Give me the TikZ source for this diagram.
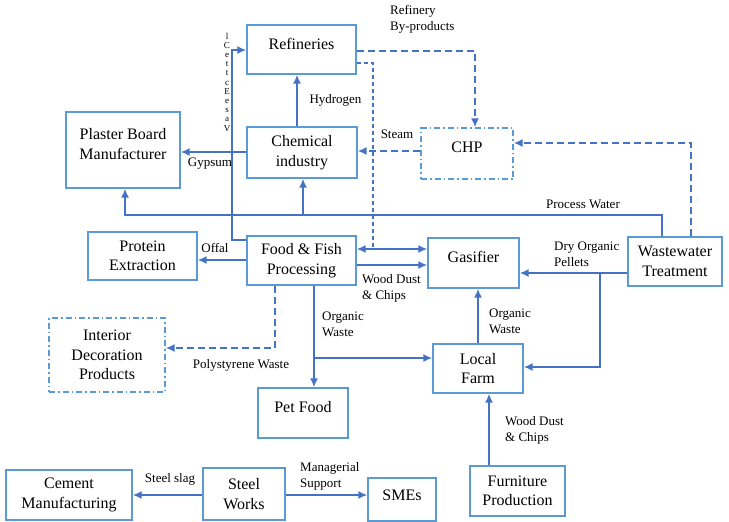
\documentclass[tikz,border=0pt]{standalone}
\usepackage{fontspec}
\setmainfont{Liberation Serif}
\newfontfamily\boxserif{Liberation Serif}
\usetikzlibrary{arrows.meta}
\definecolor{boxblue}{HTML}{5B9BD5}
\definecolor{linkblue}{HTML}{4472C4}
\begin{document}
\begin{tikzpicture}[x=1pt,y=-1pt,
  box/.style={draw=boxblue, line width=1.3pt, rectangle, inner sep=0pt, align=center,
    font=\boxserif\fontsize{16}{19.5}\selectfont},
  sz/.style 2 args={minimum width=#1pt, minimum height=#2pt},
  dbox/.style={box, dash pattern=on 6pt off 3pt on 1.5pt off 3pt},
  raised/.style={text depth=12pt},
  lab/.style={font=\boxserif\fontsize{13}{16}\selectfont, align=left, inner sep=0pt},
  link/.style={draw=linkblue, line width=2pt},
  arr/.style={link, -{Latex[length=9pt,width=8pt]}},
  arrtwo/.style={link, {Latex[length=9pt,width=8pt]}-{Latex[length=9pt,width=8pt]}},
  dsh/.style={dash pattern=on 7pt off 4pt},
  fine/.style={draw=linkblue, line width=1.3pt, dash pattern=on 4.5pt off 2.5pt},
]
\useasboundingbox (0,0) rectangle (729,522);

% boxes
\node[box, sz={109}{49}, raised] (ref) at (301.5,49.5) {Refineries};
\node[box, sz={110}{51}] (chem) at (302,152.5) {Chemical\\industry};
\node[box, sz={114}{76}, raised] (plaster) at (123,150) {Plaster Board\\Manufacturer};
\node[box, sz={109}{48}] (protein) at (142.5,256) {Protein\\Extraction};
\node[box, sz={109}{49}] (food) at (301.5,260.5) {Food \& Fish\\Processing};
\node[box, sz={91}{50}, raised] (gas) at (473.5,263) {Gasifier};
\node[dbox, sz={92}{51}, raised] (chp) at (467,153.5) {CHP};
\node[box, sz={94}{49}] (ww) at (675,261.5) {Wastewater\\Treatment};
\node[dbox, sz={116}{74}] (interior) at (107,355) {Interior\\Decoration\\Products};
\node[box, sz={90}{50}, raised] (pet) at (303,413) {Pet Food};
\node[box, sz={90}{49}] (farm) at (478,368.5) {Local\\Farm};
\node[box, sz={95}{50}] (furn) at (517.5,491) {Furniture\\Production};
\node[box, sz={126}{50}] (cement) at (69,495) {Cement\\Manufacturing};
\node[box, sz={82}{52}] (steel) at (244,494) {Steel\\Works};
\node[box, sz={68}{43}, text depth=8pt] (smes) at (402,499.5) {SMEs};

% garbled vertical label
\node[font=\boxserif\fontsize{9}{9.2}\selectfont, inner sep=0pt, align=center] (garble) at (227,82)
  {l\\C\\e\\t\\t\\c\\E\\e\\s\\a\\V};

% Hydrogen
\draw[arr] (chem.north -| 297,0) -- (ref.south -| 297,0);
\node[lab] (lhyd) at (335.5,100) {Hydrogen};

% Refinery by-products
\draw[arr, dsh] (ref.east |- 0,51) -- (475,51) -- (chp.north -| 475,0);
\node[lab, anchor=west] (lrbp) at (390,19) {Refinery\\By-products};

% fine dashed Refineries -> food/gasifier link
\draw[fine] (ref.east |- 0,63) -- (373,63) -- (373,249);
\draw[arrtwo] (food.east |- 0,249) -- (gas.west |- 0,249);

% Wood dust food -> gasifier
\draw[arr] (food.east |- 0,265) -- (gas.west |- 0,265);
\node[lab, anchor=west] (lwd1) at (362,288) {Wood Dust\\\& Chips};

% Offal
\draw[arr] (food.west |- 0,260) -- (protein.east |- 0,260);
\node[lab] (loffal) at (215,248) {Offal};

% Food -> Refineries
\draw[arr] (food.west |- 0,240) -- (232,240) -- (232,50) -- (ref.west |- 0,50);

% Gypsum
\draw[arr] (chem.west |- 0,152) -- (plaster.east |- 0,152);
\node[lab] (lgyp) at (210,164) {Gypsum};

% Steam
\draw[arr, dsh] (chp.west |- 0,151) -- (chem.east |- 0,151);
\node[lab] (lsteam) at (397,134) {Steam};

% Wastewater -> CHP
\draw[arr, dsh] (ww.north -| 691,0) -- (691,143) -- (chp.east |- 0,143);

% Process water
\draw[arr] (ww.north -| 662,0) -- (662,215) -- (125,215) -- (plaster.south -| 125,0);
\coordinate (pwb) at (303,215);
\draw[arr] (pwb) -- (chem.south -| pwb);
\node[lab] (lpw) at (583,204) {Process Water};

% Dry organic pellets
\draw[arr] (ww.west |- 0,273) -- (gas.east |- 0,273);
\coordinate (dop) at (600,273);
\draw[arr] (dop) -- (600,367) -- (farm.east |- 0,367);
\node[lab, anchor=west] (ldop) at (554,254) {Dry Organic\\Pellets};

% Farm -> Gasifier
\draw[arr] (farm.north -| 478,0) -- (gas.south -| 478,0);
\node[lab, anchor=west] (low2) at (489,321) {Organic\\Waste};

% Food -> Pet food, -> farm
\draw[arr] (food.south -| 314,0) -- (pet.north -| 314,0);
\coordinate (owb) at (314,358);
\draw[arr] (owb) -- (farm.west |- owb);
\node[lab, anchor=west] (low1) at (322,324) {Organic\\Waste};

% Polystyrene
\draw[arr, dsh] (food.south -| 275,0) -- (275,348) -- (interior.east |- 0,348);
\node[lab] (lpoly) at (241,365) {Polystyrene Waste};

% Furniture -> Farm
\draw[arr] (furn.north -| 489,0) -- (farm.south -| 489,0);
\node[lab, anchor=west] (lwd2) at (505,430) {Wood Dust\\\& Chips};

% Steel slag
\draw[arr] (steel.west |- 0,495) -- (cement.east |- 0,495);
\node[lab] (lslag) at (170,479) {Steel slag};

% Managerial support
\draw[arr] (steel.east |- 0,495) -- (smes.west |- 0,495);
\node[lab, anchor=west] (lman) at (300,476) {Managerial\\Support};
\end{tikzpicture}
\end{document}
